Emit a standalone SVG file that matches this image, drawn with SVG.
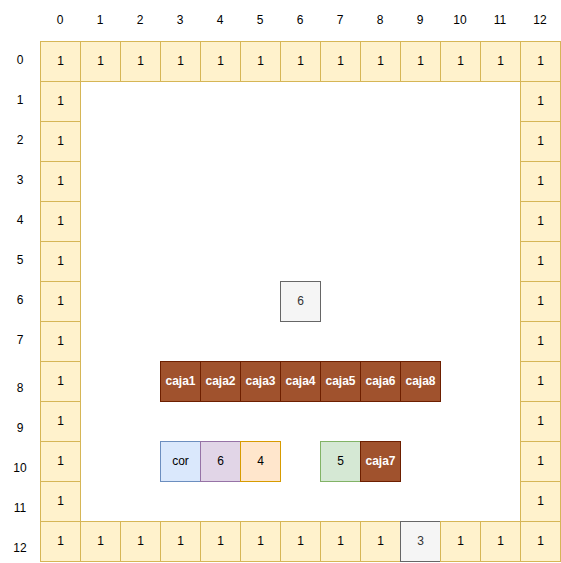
<svg xmlns="http://www.w3.org/2000/svg" width="561" height="563" viewBox="0 0 561 563">
<style>
text{font-family:"Liberation Sans",Arial,sans-serif;font-size:12px;text-anchor:middle}
.y rect{fill:#fff2cc;stroke:#d6b656}
.g rect{fill:#f5f5f5;stroke:#666666}
.g text{fill:#333333}
.b rect{fill:#a0522d;stroke:#6d1f00}
.b text{fill:#ffffff;font-weight:bold}
.bl rect{fill:#dae8fc;stroke:#6c8ebf}
.pu rect{fill:#e1d5e7;stroke:#9673a6}
.or rect{fill:#ffe6cc;stroke:#d79b00}
.gr rect{fill:#d5e8d4;stroke:#82b366}
.lbl{fill:#000}
</style>
<rect width="561" height="563" fill="#fff"/>
<g id="labels" class="lbl">
<text x="60" y="24">0</text><text x="100" y="24">1</text><text x="140" y="24">2</text><text x="180" y="24">3</text><text x="220" y="24">4</text><text x="260" y="24">5</text><text x="300" y="24">6</text><text x="340" y="24">7</text><text x="380" y="24">8</text><text x="420" y="24">9</text><text x="460" y="24">10</text><text x="500" y="24">11</text><text x="540" y="24">12</text>
<text x="20" y="64">0</text><text x="20" y="104">1</text><text x="20" y="144">2</text><text x="20" y="184">3</text><text x="20" y="224">4</text><text x="20" y="264">5</text><text x="20" y="304">6</text><text x="20" y="344">7</text><text x="20" y="392">8</text><text x="20" y="432">9</text><text x="20" y="472">10</text><text x="20" y="512">11</text><text x="20" y="552">12</text>
</g>
<g id="border">
<g id="r0c0" class="y"><rect x="40.5" y="41.5" width="40" height="40"/><text x="60.5" y="65">1</text></g>
<g id="r0c1" class="y"><rect x="80.5" y="41.5" width="40" height="40"/><text x="100.5" y="65">1</text></g>
<g id="r0c2" class="y"><rect x="120.5" y="41.5" width="40" height="40"/><text x="140.5" y="65">1</text></g>
<g id="r0c3" class="y"><rect x="160.5" y="41.5" width="40" height="40"/><text x="180.5" y="65">1</text></g>
<g id="r0c4" class="y"><rect x="200.5" y="41.5" width="40" height="40"/><text x="220.5" y="65">1</text></g>
<g id="r0c5" class="y"><rect x="240.5" y="41.5" width="40" height="40"/><text x="260.5" y="65">1</text></g>
<g id="r0c6" class="y"><rect x="280.5" y="41.5" width="40" height="40"/><text x="300.5" y="65">1</text></g>
<g id="r0c7" class="y"><rect x="320.5" y="41.5" width="40" height="40"/><text x="340.5" y="65">1</text></g>
<g id="r0c8" class="y"><rect x="360.5" y="41.5" width="40" height="40"/><text x="380.5" y="65">1</text></g>
<g id="r0c9" class="y"><rect x="400.5" y="41.5" width="40" height="40"/><text x="420.5" y="65">1</text></g>
<g id="r0c10" class="y"><rect x="440.5" y="41.5" width="40" height="40"/><text x="460.5" y="65">1</text></g>
<g id="r0c11" class="y"><rect x="480.5" y="41.5" width="40" height="40"/><text x="500.5" y="65">1</text></g>
<g id="r0c12" class="y"><rect x="520.5" y="41.5" width="40" height="40"/><text x="540.5" y="65">1</text></g>
<g id="r1c0" class="y"><rect x="40.5" y="81.5" width="40" height="40"/><text x="60.5" y="105">1</text></g>
<g id="r2c0" class="y"><rect x="40.5" y="121.5" width="40" height="40"/><text x="60.5" y="145">1</text></g>
<g id="r3c0" class="y"><rect x="40.5" y="161.5" width="40" height="40"/><text x="60.5" y="185">1</text></g>
<g id="r4c0" class="y"><rect x="40.5" y="201.5" width="40" height="40"/><text x="60.5" y="225">1</text></g>
<g id="r5c0" class="y"><rect x="40.5" y="241.5" width="40" height="40"/><text x="60.5" y="265">1</text></g>
<g id="r6c0" class="y"><rect x="40.5" y="281.5" width="40" height="40"/><text x="60.5" y="305">1</text></g>
<g id="r7c0" class="y"><rect x="40.5" y="321.5" width="40" height="40"/><text x="60.5" y="345">1</text></g>
<g id="r8c0" class="y"><rect x="40.5" y="361.5" width="40" height="40"/><text x="60.5" y="385">1</text></g>
<g id="r9c0" class="y"><rect x="40.5" y="401.5" width="40" height="40"/><text x="60.5" y="425">1</text></g>
<g id="r10c0" class="y"><rect x="40.5" y="441.5" width="40" height="40"/><text x="60.5" y="465">1</text></g>
<g id="r11c0" class="y"><rect x="40.5" y="481.5" width="40" height="40"/><text x="60.5" y="505">1</text></g>
<g id="r1c12" class="y"><rect x="520.5" y="81.5" width="40" height="40"/><text x="540.5" y="105">1</text></g>
<g id="r2c12" class="y"><rect x="520.5" y="121.5" width="40" height="40"/><text x="540.5" y="145">1</text></g>
<g id="r3c12" class="y"><rect x="520.5" y="161.5" width="40" height="40"/><text x="540.5" y="185">1</text></g>
<g id="r4c12" class="y"><rect x="520.5" y="201.5" width="40" height="40"/><text x="540.5" y="225">1</text></g>
<g id="r5c12" class="y"><rect x="520.5" y="241.5" width="40" height="40"/><text x="540.5" y="265">1</text></g>
<g id="r6c12" class="y"><rect x="520.5" y="281.5" width="40" height="40"/><text x="540.5" y="305">1</text></g>
<g id="r7c12" class="y"><rect x="520.5" y="321.5" width="40" height="40"/><text x="540.5" y="345">1</text></g>
<g id="r8c12" class="y"><rect x="520.5" y="361.5" width="40" height="40"/><text x="540.5" y="385">1</text></g>
<g id="r9c12" class="y"><rect x="520.5" y="401.5" width="40" height="40"/><text x="540.5" y="425">1</text></g>
<g id="r10c12" class="y"><rect x="520.5" y="441.5" width="40" height="40"/><text x="540.5" y="465">1</text></g>
<g id="r11c12" class="y"><rect x="520.5" y="481.5" width="40" height="40"/><text x="540.5" y="505">1</text></g>
<g id="r12c0" class="y"><rect x="40.5" y="521.5" width="40" height="40"/><text x="60.5" y="545">1</text></g>
<g id="r12c1" class="y"><rect x="80.5" y="521.5" width="40" height="40"/><text x="100.5" y="545">1</text></g>
<g id="r12c2" class="y"><rect x="120.5" y="521.5" width="40" height="40"/><text x="140.5" y="545">1</text></g>
<g id="r12c3" class="y"><rect x="160.5" y="521.5" width="40" height="40"/><text x="180.5" y="545">1</text></g>
<g id="r12c4" class="y"><rect x="200.5" y="521.5" width="40" height="40"/><text x="220.5" y="545">1</text></g>
<g id="r12c5" class="y"><rect x="240.5" y="521.5" width="40" height="40"/><text x="260.5" y="545">1</text></g>
<g id="r12c6" class="y"><rect x="280.5" y="521.5" width="40" height="40"/><text x="300.5" y="545">1</text></g>
<g id="r12c7" class="y"><rect x="320.5" y="521.5" width="40" height="40"/><text x="340.5" y="545">1</text></g>
<g id="r12c8" class="y"><rect x="360.5" y="521.5" width="40" height="40"/><text x="380.5" y="545">1</text></g>
<g id="r12c9" class="g"><rect x="400.5" y="521.5" width="40" height="40"/><text x="420.5" y="545">3</text></g>
<g id="r12c10" class="y"><rect x="440.5" y="521.5" width="40" height="40"/><text x="460.5" y="545">1</text></g>
<g id="r12c11" class="y"><rect x="480.5" y="521.5" width="40" height="40"/><text x="500.5" y="545">1</text></g>
<g id="r12c12" class="y"><rect x="520.5" y="521.5" width="40" height="40"/><text x="540.5" y="545">1</text></g>
</g>
<g id="r6c6" class="g"><rect x="280.5" y="281.5" width="40" height="40"/><text x="300.5" y="305">6</text></g>
<g id="caja1" class="b"><rect x="160.5" y="361.5" width="40" height="40"/><text x="180.5" y="385">caja1</text></g>
<g id="caja2" class="b"><rect x="200.5" y="361.5" width="40" height="40"/><text x="220.5" y="385">caja2</text></g>
<g id="caja3" class="b"><rect x="240.5" y="361.5" width="40" height="40"/><text x="260.5" y="385">caja3</text></g>
<g id="caja4" class="b"><rect x="280.5" y="361.5" width="40" height="40"/><text x="300.5" y="385">caja4</text></g>
<g id="caja5" class="b"><rect x="320.5" y="361.5" width="40" height="40"/><text x="340.5" y="385">caja5</text></g>
<g id="caja6" class="b"><rect x="360.5" y="361.5" width="40" height="40"/><text x="380.5" y="385">caja6</text></g>
<g id="caja8" class="b"><rect x="400.5" y="361.5" width="40" height="40"/><text x="420.5" y="385">caja8</text></g>
<g id="cor" class="bl"><rect x="160.5" y="441.5" width="40" height="40"/><text x="180.5" y="465">cor</text></g>
<g id="r10c4" class="pu"><rect x="200.5" y="441.5" width="40" height="40"/><text x="220.5" y="465">6</text></g>
<g id="r10c5" class="or"><rect x="240.5" y="441.5" width="40" height="40"/><text x="260.5" y="465">4</text></g>
<g id="r10c7" class="gr"><rect x="320.5" y="441.5" width="40" height="40"/><text x="340.5" y="465">5</text></g>
<g id="caja7" class="b"><rect x="360.5" y="441.5" width="40" height="40"/><text x="380.5" y="465">caja7</text></g>
<g id="connectors"/>
</svg>
